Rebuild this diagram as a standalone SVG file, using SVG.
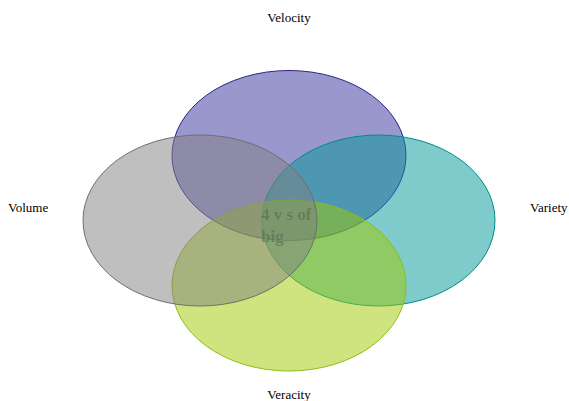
<svg xmlns="http://www.w3.org/2000/svg" width="569" height="401" viewBox="0 0 569 401">
<style>
.lbl{font-family:"Liberation Serif",serif;font-size:13px;fill:#000}
.set{fill-opacity:0.5;stroke-width:1}
.ctr{font-family:"Liberation Serif",serif;font-size:17px;font-weight:bold;fill:#5a6a50;fill-opacity:0.6}
</style>
<rect width="569" height="401" fill="#fff"/>
<g id="velocity"><ellipse class="set" cx="289" cy="155.5" rx="117" ry="85" fill="#352f9f" stroke="#2a2585"/></g>
<g id="variety"><ellipse class="set" cx="378.5" cy="220.5" rx="116.5" ry="85.5" fill="#009797" stroke="#008a8a"/></g>
<g id="veracity"><ellipse class="set" cx="289" cy="285.5" rx="117" ry="85.5" fill="#9fc900" stroke="#8cbf10"/></g>
<g id="volume"><ellipse class="set" cx="200" cy="220.5" rx="117" ry="85.5" fill="#808080" stroke="#6e6e6e"/></g>
<g id="center"><text class="ctr" x="261" y="220">4 v s of</text><text class="ctr" x="261" y="242">big</text></g>
<g id="labels">
<text class="lbl" x="289" y="22" text-anchor="middle">Velocity</text>
<text class="lbl" x="8" y="212">Volume</text>
<text class="lbl" x="530" y="212">Variety</text>
<text class="lbl" x="289" y="399" text-anchor="middle">Veracity</text>
</g>
<g id="connectors"/>
</svg>
